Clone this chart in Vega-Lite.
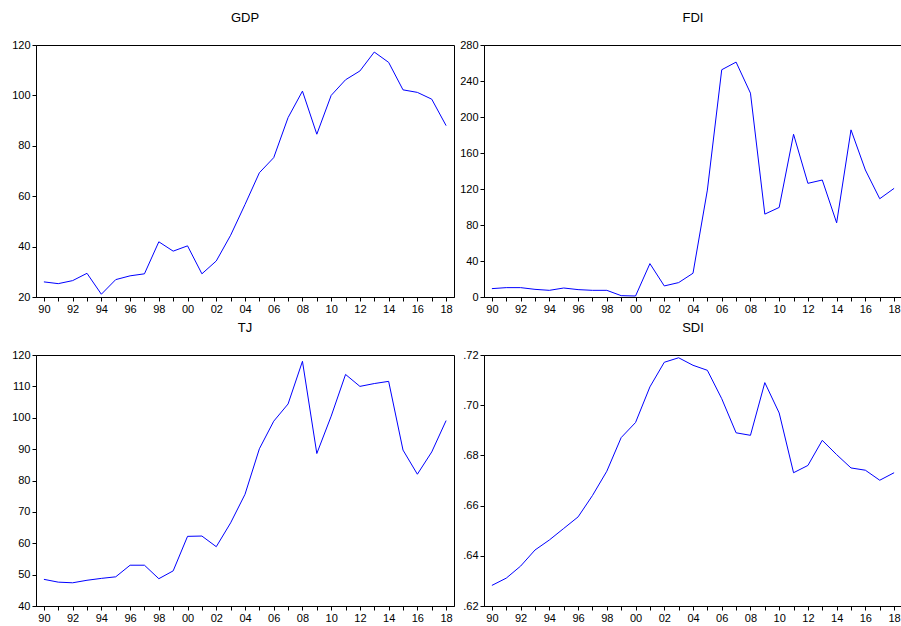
{
  "$schema": "https://vega.github.io/schema/vega-lite/v6.json",
  "padding": {"left": 11, "top": 11, "right": 0, "bottom": 0},
  "background": "white",
  "datasets": {
    "d": [
      {"year": 1990, "GDP": 26.0, "FDI": 9.3, "TJ": 48.5, "SDI": 0.6282},
      {"year": 1991, "GDP": 25.3, "FDI": 10.4, "TJ": 47.6, "SDI": 0.6311},
      {"year": 1992, "GDP": 26.5, "FDI": 10.4, "TJ": 47.4, "SDI": 0.6359},
      {"year": 1993, "GDP": 29.4, "FDI": 8.5, "TJ": 48.2, "SDI": 0.6423},
      {"year": 1994, "GDP": 21.1, "FDI": 7.4, "TJ": 48.8, "SDI": 0.6463},
      {"year": 1995, "GDP": 26.9, "FDI": 10.0, "TJ": 49.3, "SDI": 0.6509},
      {"year": 1996, "GDP": 28.4, "FDI": 8.2, "TJ": 53.0, "SDI": 0.6555},
      {"year": 1997, "GDP": 29.2, "FDI": 7.4, "TJ": 53.0, "SDI": 0.6640},
      {"year": 1998, "GDP": 41.9, "FDI": 7.4, "TJ": 48.7, "SDI": 0.6737},
      {"year": 1999, "GDP": 38.2, "FDI": 1.5, "TJ": 51.2, "SDI": 0.6871},
      {"year": 2000, "GDP": 40.3, "FDI": 1.1, "TJ": 62.2, "SDI": 0.6931},
      {"year": 2001, "GDP": 29.2, "FDI": 37.1, "TJ": 62.3, "SDI": 0.7073},
      {"year": 2002, "GDP": 34.3, "FDI": 12.3, "TJ": 58.9, "SDI": 0.7171},
      {"year": 2003, "GDP": 44.5, "FDI": 16.0, "TJ": 66.5, "SDI": 0.7189},
      {"year": 2004, "GDP": 56.7, "FDI": 26.4, "TJ": 75.6, "SDI": 0.7159},
      {"year": 2005, "GDP": 69.3, "FDI": 118.8, "TJ": 90.1, "SDI": 0.7139},
      {"year": 2006, "GDP": 75.3, "FDI": 252.5, "TJ": 98.9, "SDI": 0.7026},
      {"year": 2007, "GDP": 91.2, "FDI": 261.0, "TJ": 104.4, "SDI": 0.6890},
      {"year": 2008, "GDP": 101.7, "FDI": 226.5, "TJ": 118.0, "SDI": 0.6880},
      {"year": 2009, "GDP": 84.6, "FDI": 92.1, "TJ": 88.6, "SDI": 0.7090},
      {"year": 2010, "GDP": 100.0, "FDI": 99.5, "TJ": 100.5, "SDI": 0.6969},
      {"year": 2011, "GDP": 106.2, "FDI": 180.8, "TJ": 113.8, "SDI": 0.6731},
      {"year": 2012, "GDP": 109.7, "FDI": 126.3, "TJ": 110.0, "SDI": 0.6760},
      {"year": 2013, "GDP": 117.2, "FDI": 130.0, "TJ": 110.9, "SDI": 0.6860},
      {"year": 2014, "GDP": 113.1, "FDI": 82.4, "TJ": 111.6, "SDI": 0.6803},
      {"year": 2015, "GDP": 102.2, "FDI": 185.7, "TJ": 89.7, "SDI": 0.6750},
      {"year": 2016, "GDP": 101.2, "FDI": 141.1, "TJ": 82.0, "SDI": 0.6741},
      {"year": 2017, "GDP": 98.5, "FDI": 109.2, "TJ": 89.1, "SDI": 0.6701},
      {"year": 2018, "GDP": 88.0, "FDI": 120.7, "TJ": 99.1, "SDI": 0.6731}
    ]
  },
  "data": {"name": "d"},
  "bounds": "flush",
  "columns": 2,
  "spacing": {"row": 58, "column": 30},
  "concat": [
    {
      "title": "GDP",
      "width": 418, "height": 252,
      "mark": {"type": "line", "color": "#0000ff", "strokeWidth": 1},
      "encoding": {
        "x": {"field": "year", "type": "quantitative", "title": null,
              "scale": {"domain": [1989.45, 2018.55], "nice": false, "zero": false},
              "axis": {"values": [1990,1991,1992,1993,1994,1995,1996,1997,1998,1999,2000,2001,2002,2003,2004,2005,2006,2007,2008,2009,2010,2011,2012,2013,2014,2015,2016,2017,2018],
                       "labelExpr": "datum.value % 2 == 0 ? substring(toString(datum.value), 2, 4) : ''"}},
        "y": {"field": "GDP", "type": "quantitative", "title": null,
              "scale": {"domain": [20, 120], "nice": false, "zero": false},
              "axis": {"values": [20, 40, 60, 80, 100, 120]}}
      }
    },
    {
      "title": "FDI",
      "width": 418, "height": 252,
      "mark": {"type": "line", "color": "#0000ff", "strokeWidth": 1},
      "encoding": {
        "x": {"field": "year", "type": "quantitative", "title": null,
              "scale": {"domain": [1989.45, 2018.55], "nice": false, "zero": false},
              "axis": {"values": [1990,1991,1992,1993,1994,1995,1996,1997,1998,1999,2000,2001,2002,2003,2004,2005,2006,2007,2008,2009,2010,2011,2012,2013,2014,2015,2016,2017,2018],
                       "labelExpr": "datum.value % 2 == 0 ? substring(toString(datum.value), 2, 4) : ''"}},
        "y": {"field": "FDI", "type": "quantitative", "title": null,
              "scale": {"domain": [0, 280], "nice": false, "zero": false},
              "axis": {"values": [0, 40, 80, 120, 160, 200, 240, 280]}}
      }
    },
    {
      "title": "TJ",
      "width": 418, "height": 251,
      "mark": {"type": "line", "color": "#0000ff", "strokeWidth": 1},
      "encoding": {
        "x": {"field": "year", "type": "quantitative", "title": null,
              "scale": {"domain": [1989.45, 2018.55], "nice": false, "zero": false},
              "axis": {"values": [1990,1991,1992,1993,1994,1995,1996,1997,1998,1999,2000,2001,2002,2003,2004,2005,2006,2007,2008,2009,2010,2011,2012,2013,2014,2015,2016,2017,2018],
                       "labelExpr": "datum.value % 2 == 0 ? substring(toString(datum.value), 2, 4) : ''"}},
        "y": {"field": "TJ", "type": "quantitative", "title": null,
              "scale": {"domain": [40, 120], "nice": false, "zero": false},
              "axis": {"values": [40, 50, 60, 70, 80, 90, 100, 110, 120]}}
      }
    },
    {
      "title": "SDI",
      "width": 418, "height": 251,
      "mark": {"type": "line", "color": "#0000ff", "strokeWidth": 1},
      "encoding": {
        "x": {"field": "year", "type": "quantitative", "title": null,
              "scale": {"domain": [1989.45, 2018.55], "nice": false, "zero": false},
              "axis": {"values": [1990,1991,1992,1993,1994,1995,1996,1997,1998,1999,2000,2001,2002,2003,2004,2005,2006,2007,2008,2009,2010,2011,2012,2013,2014,2015,2016,2017,2018],
                       "labelExpr": "datum.value % 2 == 0 ? substring(toString(datum.value), 2, 4) : ''"}},
        "y": {"field": "SDI", "type": "quantitative", "title": null,
              "scale": {"domain": [0.62, 0.72], "nice": false, "zero": false},
              "axis": {"values": [0.62, 0.64, 0.66, 0.68, 0.70, 0.72],
                       "labelExpr": "replace(format(datum.value, '.2f'), '0.', '.')"}}
      }
    }
  ],
  "config": {
    "view": {"stroke": "black", "strokeWidth": 1},
    "axis": {
      "grid": false,
      "domainColor": "black",
      "tickColor": "black",
      "tickSize": 4,
      "labelFont": "Liberation Sans",
      "labelFontSize": 11,
      "labelColor": "black",
      "labelPadding": 2,
      "labelOverlap": false,
      "labelFlush": false
    },
    "title": {
      "font": "Liberation Sans",
      "fontSize": 13,
      "fontWeight": "normal",
      "color": "black",
      "anchor": "middle",
      "offset": 14
    }
  }
}
